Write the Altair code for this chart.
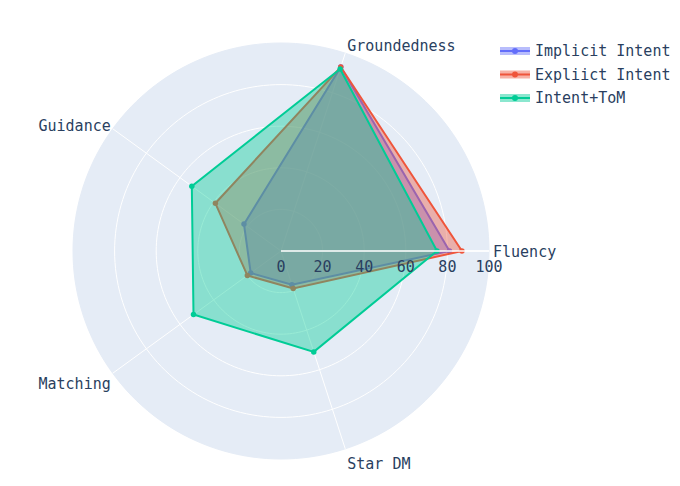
import altair as alt
import pandas as pd

categories = ["Fluency", "Groundedness", "Guidance", "Matching", "Star DM"]
series_names = ["Implicit Intent", "Expliict Intent", "Intent+ToM"]
implicit_vals = [81, 93, 22, 18, 17]
explicit_vals = [87, 93, 39, 20, 19]
tom_vals = [75, 92, 53, 52, 51]
radial_ticks = [0, 20, 40, 60, 80, 100]
grid_rings = [20, 40, 60, 80]
outer_ring = [100]
colors = ["#636EFA", "#EF553B", "#00CC96"]

FONT = "DejaVu Sans Mono"
TXT = "#2a3f5f"
N = len(categories)

rows = []
for s, vals in zip(series_names, [implicit_vals, explicit_vals, tom_vals]):
    for k in range(N + 1):
        i = k % N
        rows.append({"series": s, "category": categories[i], "idx": i, "k": k, "value": vals[i]})
traces = pd.DataFrame(rows)
cats = pd.DataFrame({"category": categories, "idx": list(range(N))})

xs = alt.Scale(domain=[-100, 100], nice=False, zero=False)
ys = alt.Scale(domain=[-100, 100], nice=False, zero=False)
ANG = f"datum.idx * 2 * PI / {N}"


def ring_chart(ring_list):
    df = pd.DataFrame([{"ring": r, "deg": d} for r in ring_list for d in range(0, 362, 2)])
    return alt.Chart(df).transform_calculate(
        px="datum.ring * cos(datum.deg * PI / 180)",
        py="datum.ring * sin(datum.deg * PI / 180)",
    )


bg = ring_chart(outer_ring).mark_line(fill="#E5ECF6", stroke="#E5ECF6", strokeWidth=1).encode(
    x=alt.X("px:Q", scale=xs, axis=None),
    y=alt.Y("py:Q", scale=ys, axis=None),
    order="deg:Q",
    detail="ring:N",
)
grid = ring_chart(grid_rings).mark_line(stroke="white", strokeWidth=1).encode(
    x=alt.X("px:Q", scale=xs, axis=None),
    y=alt.Y("py:Q", scale=ys, axis=None),
    order="deg:Q",
    detail="ring:N",
)
spokes = (
    alt.Chart(cats)
    .transform_calculate(
        x0="0", y0="0",
        px=f"100 * cos({ANG})",
        py=f"100 * sin({ANG})",
    )
    .mark_rule(stroke="white", strokeWidth=1)
    .encode(
        x=alt.X("x0:Q", scale=xs, axis=None),
        y=alt.Y("y0:Q", scale=ys, axis=None),
        x2="px:Q",
        y2="py:Q",
    )
)

base = alt.Chart(traces).transform_calculate(
    px=f"datum.value * cos({ANG})",
    py=f"datum.value * sin({ANG})",
)

fill_scale = alt.Scale(domain=series_names + ["_"], range=colors + ["#ffffff"])
stroke_scale = alt.Scale(domain=series_names, range=colors)

fill_legend = alt.Legend(
    title=None, orient="none", legendX=431, legendY=-3, padding=0,
    values=series_names,
    symbolType="M-1.5,-0.4H1.5V0.4H-1.5Z", symbolSize=400, symbolOpacity=0.45,
    symbolStrokeWidth=2, symbolStrokeColor="transparent",
    labelFont=FONT, labelFontSize=15, labelColor="transparent", labelOffset=9,
    rowPadding=4.5,
)
stroke_legend = alt.Legend(
    title=None, orient="none", legendX=431, legendY=-3, padding=0,
    symbolType="M-1.5,0H1.5M0.2,0A0.2,0.2 0 1,1 -0.2,0A0.2,0.2 0 1,1 0.2,0",
    symbolSize=400, symbolStrokeWidth=2,
    labelFont=FONT, labelFontSize=15, labelColor=TXT, labelOffset=9,
    rowPadding=4.5,
)

layers = [bg, grid, spokes]
for n, s in enumerate(series_names):
    sub = base.transform_filter(alt.datum.series == s)
    poly = sub.mark_line(fillOpacity=0.4, strokeOpacity=0).encode(
        x=alt.X("px:Q", scale=xs, axis=None),
        y=alt.Y("py:Q", scale=ys, axis=None),
        order="k:Q",
        fill=alt.Fill("series:N", scale=fill_scale, legend=fill_legend if n == 0 else None),
    )
    line = sub.mark_line(strokeWidth=2).encode(
        x=alt.X("px:Q", scale=xs, axis=None),
        y=alt.Y("py:Q", scale=ys, axis=None),
        order="k:Q",
        stroke=alt.Stroke("series:N", scale=stroke_scale, legend=stroke_legend if n == 0 else None),
    )
    pts = sub.transform_filter(alt.datum.k < N).mark_circle(size=30, opacity=1).encode(
        x=alt.X("px:Q", scale=xs, axis=None),
        y=alt.Y("py:Q", scale=ys, axis=None),
        fill=alt.Fill("series:N", scale=fill_scale, legend=None),
    )
    layers += [poly, line, pts]

axis_line = (
    alt.Chart(pd.DataFrame({"a": [0]}))
    .transform_calculate(x0="0", x1="100", y0="0")
    .mark_rule(stroke="white", strokeWidth=1.5)
    .encode(
        x=alt.X("x0:Q", scale=xs, axis=None),
        x2="x1:Q",
        y=alt.Y("y0:Q", scale=ys, axis=None),
    )
)
tick_labels = (
    alt.Chart(pd.DataFrame({"t": radial_ticks}))
    .transform_calculate(y0="0")
    .mark_text(font=FONT, fontSize=15, color=TXT, dy=16, baseline="middle", align="center")
    .encode(
        x=alt.X("t:Q", scale=xs, axis=None),
        y=alt.Y("y0:Q", scale=ys, axis=None),
        text="t:Q",
    )
)
layers += [axis_line, tick_labels]

lab_base = alt.Chart(cats).transform_calculate(
    lx=f"100 * cos({ANG})",
    ly=f"100 * sin({ANG})",
    c=f"cos({ANG})",
    s=f"sin({ANG})",
)
label_specs = [
    ("abs(datum.s) < 0.1 && datum.c > 0", "left", "middle", 4, 1),
    ("datum.s > 0.1 && datum.c > 0", "left", "bottom", 2, 1),
    ("datum.s > 0.1 && datum.c < 0", "right", "bottom", -2, 5),
    ("datum.s < -0.1 && datum.c < 0", "right", "top", -2, 4),
    ("datum.s < -0.1 && datum.c > 0", "left", "top", 2, 8),
]
for cond, al, bl, dx, dy in label_specs:
    layers.append(
        lab_base.transform_filter(cond)
        .mark_text(font=FONT, fontSize=15, color=TXT, align=al, baseline=bl, dx=dx, dy=dy)
        .encode(
            x=alt.X("lx:Q", scale=xs, axis=None),
            y=alt.Y("ly:Q", scale=ys, axis=None),
            text="category:N",
        )
    )

chart = (
    alt.layer(*layers)
    .properties(
        width=416,
        height=416,
        autosize=alt.AutoSizeParams(type="none"),
        padding={"left": 73, "top": 43, "right": 191, "bottom": 27},
        background="white",
    )
    .configure_view(stroke=None)
)

chart.save("out.html", embed_options={"renderer": "svg", "actions": False})
